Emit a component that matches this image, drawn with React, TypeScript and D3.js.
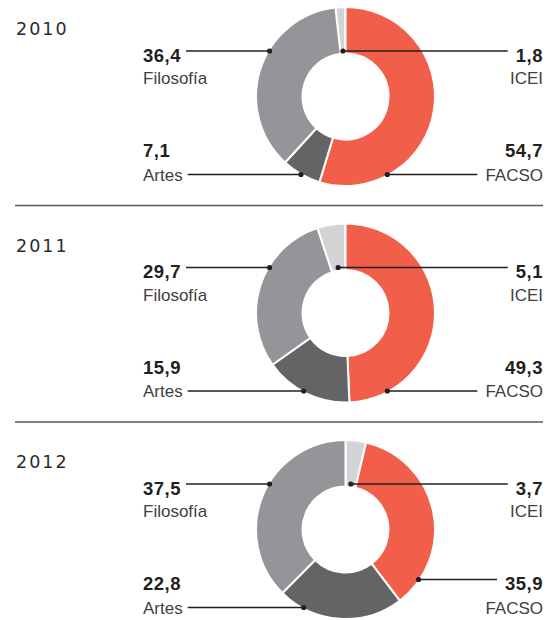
import React, { useEffect, useRef } from "react";
import * as d3 from "d3";

// ---- data ----
const years = ["2010", "2011", "2012"];
const categories = ["ICEI", "FACSO", "Artes", "Filosofía"];
const values2010 = [1.8, 54.7, 7.1, 36.4];
const values2011 = [5.1, 49.3, 15.9, 29.7];
const values2012 = [3.7, 35.9, 22.8, 37.5];
const seriesByYear = [values2010, values2011, values2012];
// category whose slice begins at 12 o'clock in each year
const startCategory = ["FACSO", "FACSO", "ICEI"];

// ---- style / layout ----
const colors: Record<string, string> = {
  ICEI: "#d1d3d4",
  FACSO: "#f15f4a",
  Artes: "#636466",
  "Filosofía": "#939598",
};
// label placement: side and row
const labelSide: Record<string, string> = { ICEI: "right", FACSO: "right", Artes: "left", "Filosofía": "left" };
const labelRow: Record<string, string> = { ICEI: "top", FACSO: "bottom", Artes: "bottom", "Filosofía": "top" };
// which text line the leader attaches to, per year for bottom-right label
const bottomRightAnchor = ["label", "label", "value"];

const W = 558;
const H = 620;
const PANEL = 216.5;
const CX = 345.5;
const CY = 96.5;
const R_OUT = 89.5;
const R_IN = 43;
const LEFT_X = 143;
const RIGHT_X = 543;
const ROW_VALUE_BASE: Record<string, number> = { top: 61.5, bottom: 157 };
const ROW_LABEL_BASE: Record<string, number> = { top: 84, bottom: 180.5 };

const LABEL_FONT = "'Liberation Sans', Arial, sans-serif";
const YEAR_FONT = "'DejaVu Sans', sans-serif";

const fmt = (v: number) => d3.format(".1f")(v).replace(".", ",");

export default function App() {
  const ref = useRef<SVGSVGElement | null>(null);

  useEffect(() => {
    const svg = d3.select(ref.current);
    svg.selectAll("*").remove();

    years.forEach((year, yi) => {
      const values = seriesByYear[yi];
      const oy = yi * PANEL;
      const total = d3.sum(values);
      const startIdx = categories.indexOf(startCategory[yi]);
      const before = d3.sum(values.slice(0, startIdx));
      const offset = -(before / total) * 2 * Math.PI;

      const pie = d3
        .pie<number>()
        .sort(null)
        .value((d) => d)
        .startAngle(offset)
        .endAngle(offset + 2 * Math.PI);
      const arcs = pie(values);
      const arc = d3.arc<d3.PieArcDatum<number>>().innerRadius(R_IN).outerRadius(R_OUT);

      const g = svg.append("g").attr("transform", `translate(0,${oy})`);

      // separator
      if (yi > 0) {
        svg
          .append("line")
          .attr("x1", 15)
          .attr("x2", 543)
          .attr("y1", oy - 11)
          .attr("y2", oy - 11)
          .attr("stroke", "#58595b")
          .attr("stroke-width", 1.5);
      }

      // year
      g.append("text")
        .attr("x", 16)
        .attr("y", 35)
        .attr("font-family", YEAR_FONT)
        .attr("font-weight", 400)
        .attr("font-size", 17.5)
        .attr("letter-spacing", 2)
        .attr("fill", "#2b2b2b")
        .text(year);

      // donut
      const dg = g.append("g").attr("transform", `translate(${CX},${CY})`);
      dg.selectAll("path")
        .data(arcs)
        .join("path")
        .attr("d", arc as any)
        .attr("fill", (_d, i) => colors[categories[i]])
        .attr("stroke", "#fff")
        .attr("stroke-width", 2)
        .attr("stroke-linejoin", "round");

      // labels
      categories.forEach((cat, ci) => {
        const side = labelSide[cat];
        const row = labelRow[cat];
        const a = arcs[ci];
        const isRight = side === "right";
        const tx = isRight ? RIGHT_X : LEFT_X;
        const anchor = isRight ? "end" : "start";
        const vBase = ROW_VALUE_BASE[row];
        const lBase = ROW_LABEL_BASE[row];

        const vt = g
          .append("text")
          .attr("x", tx)
          .attr("y", vBase)
          .attr("text-anchor", anchor)
          .attr("font-family", LABEL_FONT)
          .attr("font-weight", 700)
          .attr("font-size", 18.5)
          .attr("letter-spacing", 0.5)
          .attr("fill", "#231f20")
          .text(fmt(values[ci]));
        const lt = g
          .append("text")
          .attr("x", tx)
          .attr("y", lBase)
          .attr("text-anchor", anchor)
          .attr("font-family", LABEL_FONT)
          .attr("font-size", 17)
          .attr("fill", "#414042")
          .text(cat);

        let attach = row === "top" ? "value" : "label";
        if (isRight && row === "bottom") attach = bottomRightAnchor[yi];
        const lineY = attach === "value" ? vBase - 10.5 : lBase - 6;
        const textNode = (attach === "value" ? vt : lt).node() as SVGTextElement;
        const tw = textNode.getComputedTextLength();

        // dot position inside the slice along the leader line
        const dy = lineY - CY;
        const span = a.endAngle - a.startAngle;
        let dotX: number;
        if (span < (30 * Math.PI) / 180) {
          const mid = (a.startAngle + a.endAngle) / 2;
          const r = -dy / Math.cos(mid);
          dotX = CX + r * Math.sin(mid);
        } else {
          const r = R_OUT - 1;
          const dx = Math.sqrt(Math.max(0, r * r - dy * dy));
          const candidates = isRight ? [CX + dx, CX - dx] : [CX - dx, CX + dx];
          const norm = (t: number) => ((t % (2 * Math.PI)) + 2 * Math.PI) % (2 * Math.PI);
          const inSlice = (x: number) => {
            const ang = norm(Math.atan2(x - CX, -dy));
            const s = norm(a.startAngle);
            const e = s + span;
            return (ang >= s && ang <= e) || (ang + 2 * Math.PI >= s && ang + 2 * Math.PI <= e);
          };
          dotX = candidates.find(inSlice) ?? candidates[0];
        }

        const x1 = isRight ? dotX : tx + tw + 5;
        const x2 = isRight ? tx - tw - 8 : dotX;
        g.append("line")
          .attr("x1", x1)
          .attr("x2", x2)
          .attr("y1", lineY)
          .attr("y2", lineY)
          .attr("stroke", "#231f20")
          .attr("stroke-width", 1.3);
        g.append("circle").attr("cx", dotX).attr("cy", lineY).attr("r", 2.6).attr("fill", "#231f20");
      });
    });
  }, []);

  return (
    <svg
      ref={ref}
      width={W}
      height={H}
      style={{ position: "absolute", left: 0, top: 0, background: "#fff" }}
    />
  );
}
